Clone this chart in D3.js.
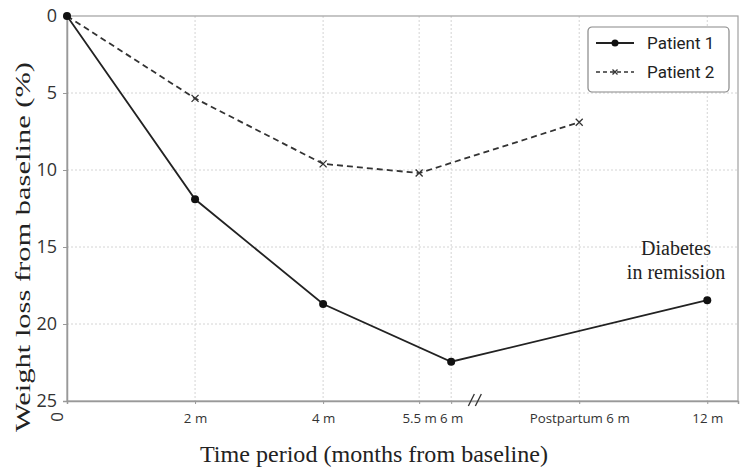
<!DOCTYPE html>
<html>
<head>
<meta charset="utf-8">
<script src="https://cdn.jsdelivr.net/npm/d3@7"></script>
<style>
body { margin: 0; background: #fff; }
</style>
</head>
<body>
<svg id="chart"></svg>
<script>
// time points: label and position on the (broken) x axis
var tickLabels = ["2 m", "4 m", "5.5 m", "6 m", "Postpartum 6 m", "12 m"];
var tickPos = [2, 4, 5.5, 6, 8, 10];

var patient1X = [0, 2, 4, 6, 10];
var patient1Y = [0, 11.9, 18.7, 22.45, 18.45];
var patient2X = [0, 2, 4, 5.5, 8];
var patient2Y = [0, 5.35, 9.6, 10.2, 6.9];

var yTicks = [0, 5, 10, 15, 20, 25];

var W = 750, H = 473;
var margin = {top: 16, right: 12, bottom: 72, left: 67},
    width = W - margin.left - margin.right,
    height = H - margin.top - margin.bottom;

var svg = d3.select("#chart").attr("width", W).attr("height", H);
var g = svg.append("g").attr("transform", "translate(" + margin.left + "," + margin.top + ")");

var x = d3.scaleLinear().domain([0, 10.48]).range([0, width]);
var y = d3.scaleLinear().domain([0, 25]).range([0, height]);

// grid
g.selectAll(".hgrid").data(yTicks.slice(1, 5)).enter().append("line")
    .attr("x1", 0).attr("x2", width)
    .attr("y1", d => y(d)).attr("y2", d => y(d))
    .attr("stroke", "#d4d4d4").attr("stroke-dasharray", "2,2");
g.selectAll(".vgrid").data(tickPos).enter().append("line")
    .attr("x1", d => x(d)).attr("x2", d => x(d))
    .attr("y1", 0).attr("y2", height)
    .attr("stroke", "#d4d4d4").attr("stroke-dasharray", "2,2");

// frame
g.append("rect").attr("width", width).attr("height", height)
    .attr("fill", "none").attr("stroke", "#a0a0a0").attr("stroke-width", 1.2);

// y axis
var yAxis = g.append("g")
    .call(d3.axisLeft(y).tickValues(yTicks).tickSize(4).tickPadding(6));
yAxis.select(".domain").attr("stroke", "#999").attr("stroke-width", 1.5);
yAxis.selectAll(".tick line").attr("stroke", "#999");
yAxis.selectAll("text").style("font", "18px 'Open Sans', sans-serif").attr("fill", "#333");

// x axis
var xAxis = g.append("g").attr("transform", "translate(0," + height + ")")
    .call(d3.axisBottom(x).tickValues(tickPos).tickFormat((d, i) => tickLabels[i]).tickSize(3).tickPadding(10));
xAxis.select(".domain").attr("stroke", "#999").attr("stroke-width", 1.5);
xAxis.selectAll(".tick line").attr("stroke", "#999");
xAxis.selectAll("text").style("font", "13.3px 'Open Sans', sans-serif").attr("fill", "#333");

// rotated origin label
g.append("text")
    .attr("transform", "translate(" + (-10) + "," + (height + 16) + ") rotate(-90)")
    .attr("text-anchor", "middle").attr("dy", "0.35em")
    .style("font", "17px 'Open Sans', sans-serif").attr("fill", "#333")
    .text("0");

// axis break mark
var bx = x(6.37);
[-3.5, 3.5].forEach(function (o) {
    g.append("line")
        .attr("x1", bx + o - 3).attr("y1", height + 5)
        .attr("x2", bx + o + 3).attr("y2", height - 7)
        .attr("stroke", "#333").attr("stroke-width", 1.3);
});

// lines
function pts(xs, ys) { return xs.map((d, i) => [d, ys[i]]); }
var line = d3.line().x(d => x(d[0])).y(d => y(d[1]));

var p1 = pts(patient1X, patient1Y), p2 = pts(patient2X, patient2Y);

g.append("path").datum(p2).attr("d", line)
    .attr("fill", "none").attr("stroke", "#333").attr("stroke-width", 1.8)
    .attr("stroke-dasharray", "6,4");
g.append("path").datum(p1).attr("d", line)
    .attr("fill", "none").attr("stroke", "#222").attr("stroke-width", 1.8);

g.selectAll(".dot").data(p1).enter().append("circle")
    .attr("cx", d => x(d[0])).attr("cy", d => y(d[1])).attr("r", 4)
    .attr("fill", "#111");

function cross(sel, cx, cy, s) {
    sel.append("path")
        .attr("d", "M" + (cx - s) + "," + (cy - s) + "L" + (cx + s) + "," + (cy + s) +
                   "M" + (cx - s) + "," + (cy + s) + "L" + (cx + s) + "," + (cy - s))
        .attr("stroke", "#333").attr("stroke-width", 1.3);
}
p2.slice(1).forEach(d => cross(g, x(d[0]), y(d[1]), 3.5));

// annotation
var ann = svg.append("text").attr("text-anchor", "middle")
    .style("font", "20px 'Liberation Serif', serif").attr("fill", "#222");
ann.append("tspan").attr("x", 676).attr("y", 255).text("Diabetes");
ann.append("tspan").attr("x", 676).attr("y", 279).text("in remission");

// legend
var lg = svg.append("g").attr("transform", "translate(588,27)");
lg.append("rect").attr("width", 141).attr("height", 65).attr("rx", 4)
    .attr("fill", "#fff").attr("stroke", "#888").attr("stroke-width", 1.2);
lg.append("line").attr("x1", 8).attr("x2", 46).attr("y1", 16).attr("y2", 16)
    .attr("stroke", "#222").attr("stroke-width", 1.8);
lg.append("circle").attr("cx", 27).attr("cy", 16).attr("r", 3.5).attr("fill", "#111");
lg.append("line").attr("x1", 8).attr("x2", 46).attr("y1", 45).attr("y2", 45)
    .attr("stroke", "#333").attr("stroke-width", 1.4).attr("stroke-dasharray", "4,3");
cross(lg, 27, 45, 2.5);
lg.append("text").attr("x", 59).attr("y", 16).attr("dy", "0.35em")
    .style("font", "17px Roboto, sans-serif").attr("fill", "#222").text("Patient 1");
lg.append("text").attr("x", 59).attr("y", 45).attr("dy", "0.35em")
    .style("font", "17px Roboto, sans-serif").attr("fill", "#222").text("Patient 2");

// axis titles
svg.append("text").attr("x", 374).attr("y", 462).attr("text-anchor", "middle")
    .attr("textLength", 348).attr("lengthAdjust", "spacingAndGlyphs")
    .style("font", "23px 'Liberation Serif', serif").attr("fill", "#222")
    .text("Time period (months from baseline)");
svg.append("text")
    .attr("transform", "translate(22,247) rotate(-90)")
    .attr("text-anchor", "middle").attr("dy", "0.35em")
    .attr("textLength", 370).attr("lengthAdjust", "spacingAndGlyphs")
    .style("font", "22px 'Liberation Serif', serif").attr("fill", "#222")
    .text("Weight loss from baseline (%)");
</script>
</body>
</html>
